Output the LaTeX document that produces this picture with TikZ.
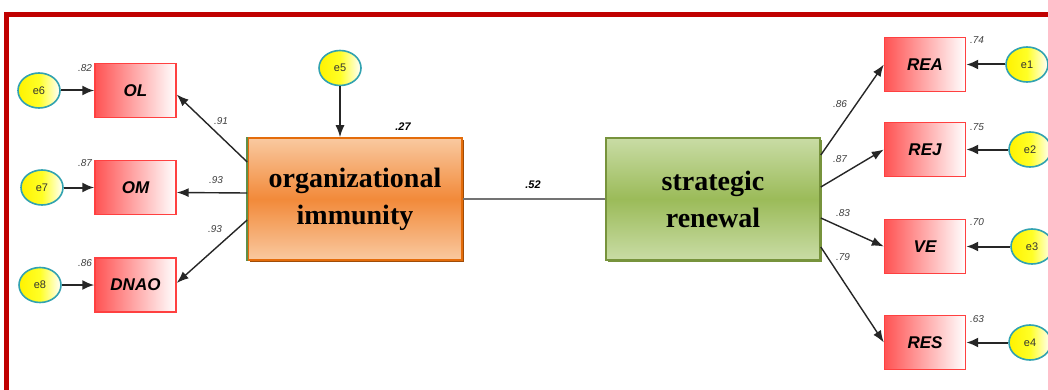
\documentclass[tikz,border=0pt]{standalone}
\usepackage{fontspec}
\setmainfont{Liberation Serif}
\setsansfont{Liberation Sans}
\usetikzlibrary{shapes.geometric,arrows.meta,shadows}
\definecolor{frame}{HTML}{C00000}
\definecolor{tealb}{HTML}{31A2B0}
\definecolor{orD}{HTML}{F28A3A}
\definecolor{orL}{HTML}{F9C9A0}
\definecolor{orB}{HTML}{E46C0A}
\definecolor{grD}{HTML}{9BBB59}
\definecolor{grL}{HTML}{C9DCA5}
\definecolor{grB}{HTML}{77933C}
\definecolor{boxred}{HTML}{FF4040}
\begin{document}
\begin{tikzpicture}[x=0.5pt,y=-0.5pt,
  obs/.style={rectangle, draw=boxred, line width=0.7pt, left color=boxred!90, right color=white,
    minimum width=40.5pt, minimum height=27pt, inner sep=0pt,
    font=\sffamily\bfseries\itshape\fontsize{8.5}{10}\selectfont},
  err/.style={ellipse, draw=tealb, line width=0.8pt, left color=yellow!90!orange, right color=white, middle color=yellow!85,
    minimum width=21pt, minimum height=17.5pt, inner sep=0pt,
    font=\sffamily\fontsize{5.5}{6}\selectfont, text=black!80},
  latent/.style={rectangle, line width=0.8pt, minimum width=107pt, minimum height=61pt, inner sep=0pt,
    align=center, font=\rmfamily\bfseries\fontsize{14}{18.5}\selectfont, text=black},
  coef/.style={font=\sffamily\itshape\fontsize{5}{6}\selectfont, text=black!75, inner sep=0pt},
  bcoef/.style={font=\sffamily\bfseries\itshape\fontsize{5.5}{6}\selectfont, text=black, inner sep=0pt},
  arr/.style={-{Latex[length=6pt,width=4.5pt]}, line width=0.7pt, draw=black!85},
  earr/.style={-{Latex[length=6pt,width=5pt]}, line width=1pt, draw=black!85},
]
\useasboundingbox (0,0) rectangle (1048,390);
\clip (0,0) rectangle (1048,390);
\fill[white] (0,0) rectangle (1048,390);
\draw[frame, line width=2.6pt] (6.5,14.5) rectangle (1070,420);

% latent variables
\node[latent, draw=orB, top color=orL, bottom color=orL, middle color=orD,
  drop shadow={shadow xshift=1.2pt, shadow yshift=-1.2pt, fill=orB!70!black, opacity=1}] (OI) at (355,199) {organizational\\immunity};
\draw[grB!80!teal, line width=1pt] (OI.north west) -- (OI.south west);
\node[latent, draw=grB, top color=grL, bottom color=grL, middle color=grD,
  drop shadow={shadow xshift=1.2pt, shadow yshift=-1.2pt, fill=grB, opacity=1}] (SR) at (713,199) {strategic\\renewal};

% observed variables
\node[obs] (OL) at (135.5,90.5) {OL};
\node[obs] (OM) at (135.5,187.5) {OM};
\node[obs] (DNAO) at (135.5,285) {DNAO};
\node[obs] (REA) at (925,64.5) {REA};
\node[obs] (REJ) at (925,149.5) {REJ};
\node[obs] (VE) at (925,246.5) {VE};
\node[obs] (RES) at (925,342.5) {RES};

% errors
\node[err] (e5) at (340,68) {e5};
\node[err] (e6) at (39,90.5) {e6};
\node[err] (e7) at (42,187.5) {e7};
\node[err] (e8) at (40,285) {e8};
\node[err] (e1) at (1027,64.5) {e1};
\node[err] (e2) at (1030,149.5) {e2};
\node[err] (e3) at (1032,246.5) {e3};
\node[err] (e4) at (1030,342.5) {e4};

% connectors
\draw[black!55, line width=1.1pt] (OI.east) -- (SR.west);
\draw[arr] (e5.south) -- ([xshift=-7.5pt]OI.north);
\draw[arr] ([yshift=18.5pt]OI.west) -- ([yshift=-2pt]OL.east);
\draw[arr] ([yshift=3pt]OI.west) -- ([yshift=-2.5pt]OM.east);
\draw[arr] ([yshift=-10.5pt]OI.west) -- ([yshift=1pt]DNAO.east);
\draw[earr] (e6.east) -- (OL.west);
\draw[earr] (e7.east) -- (OM.west);
\draw[earr] (e8.east) -- (DNAO.west);
\draw[arr] ([yshift=22pt]SR.east) -- (REA.west);
\draw[arr] ([yshift=6pt]SR.east) -- (REJ.west);
\draw[arr] ([yshift=-9.5pt]SR.east) -- (VE.west);
\draw[arr] ([yshift=-24pt]SR.east) -- (RES.west);
\draw[earr] (e1.west) -- (REA.east);
\draw[earr] (e2.west) -- (REJ.east);
\draw[earr] (e3.west) -- (VE.east);
\draw[earr] (e4.west) -- (RES.east);

% coefficients
\node[bcoef] (c27) at (403,127) {.27};
\node[bcoef] (c52) at (533,185) {.52};
\node[coef] (c82) at (85,68) {.82};
\node[coef] (c87a) at (85,163) {.87};
\node[coef] (c86a) at (85,263) {.86};
\node[coef] (c91) at (221,121) {.91};
\node[coef] (c93a) at (216,180) {.93};
\node[coef] (c93b) at (215,229) {.93};
\node[coef] (c86b) at (840,104) {.86};
\node[coef] (c87b) at (840,159) {.87};
\node[coef] (c83) at (843,213) {.83};
\node[coef] (c79) at (843,257) {.79};
\node[coef] (c74) at (977,40) {.74};
\node[coef] (c75) at (977,127) {.75};
\node[coef] (c70) at (977,222) {.70};
\node[coef] (c63) at (977,319) {.63};
\end{tikzpicture}
\end{document}
